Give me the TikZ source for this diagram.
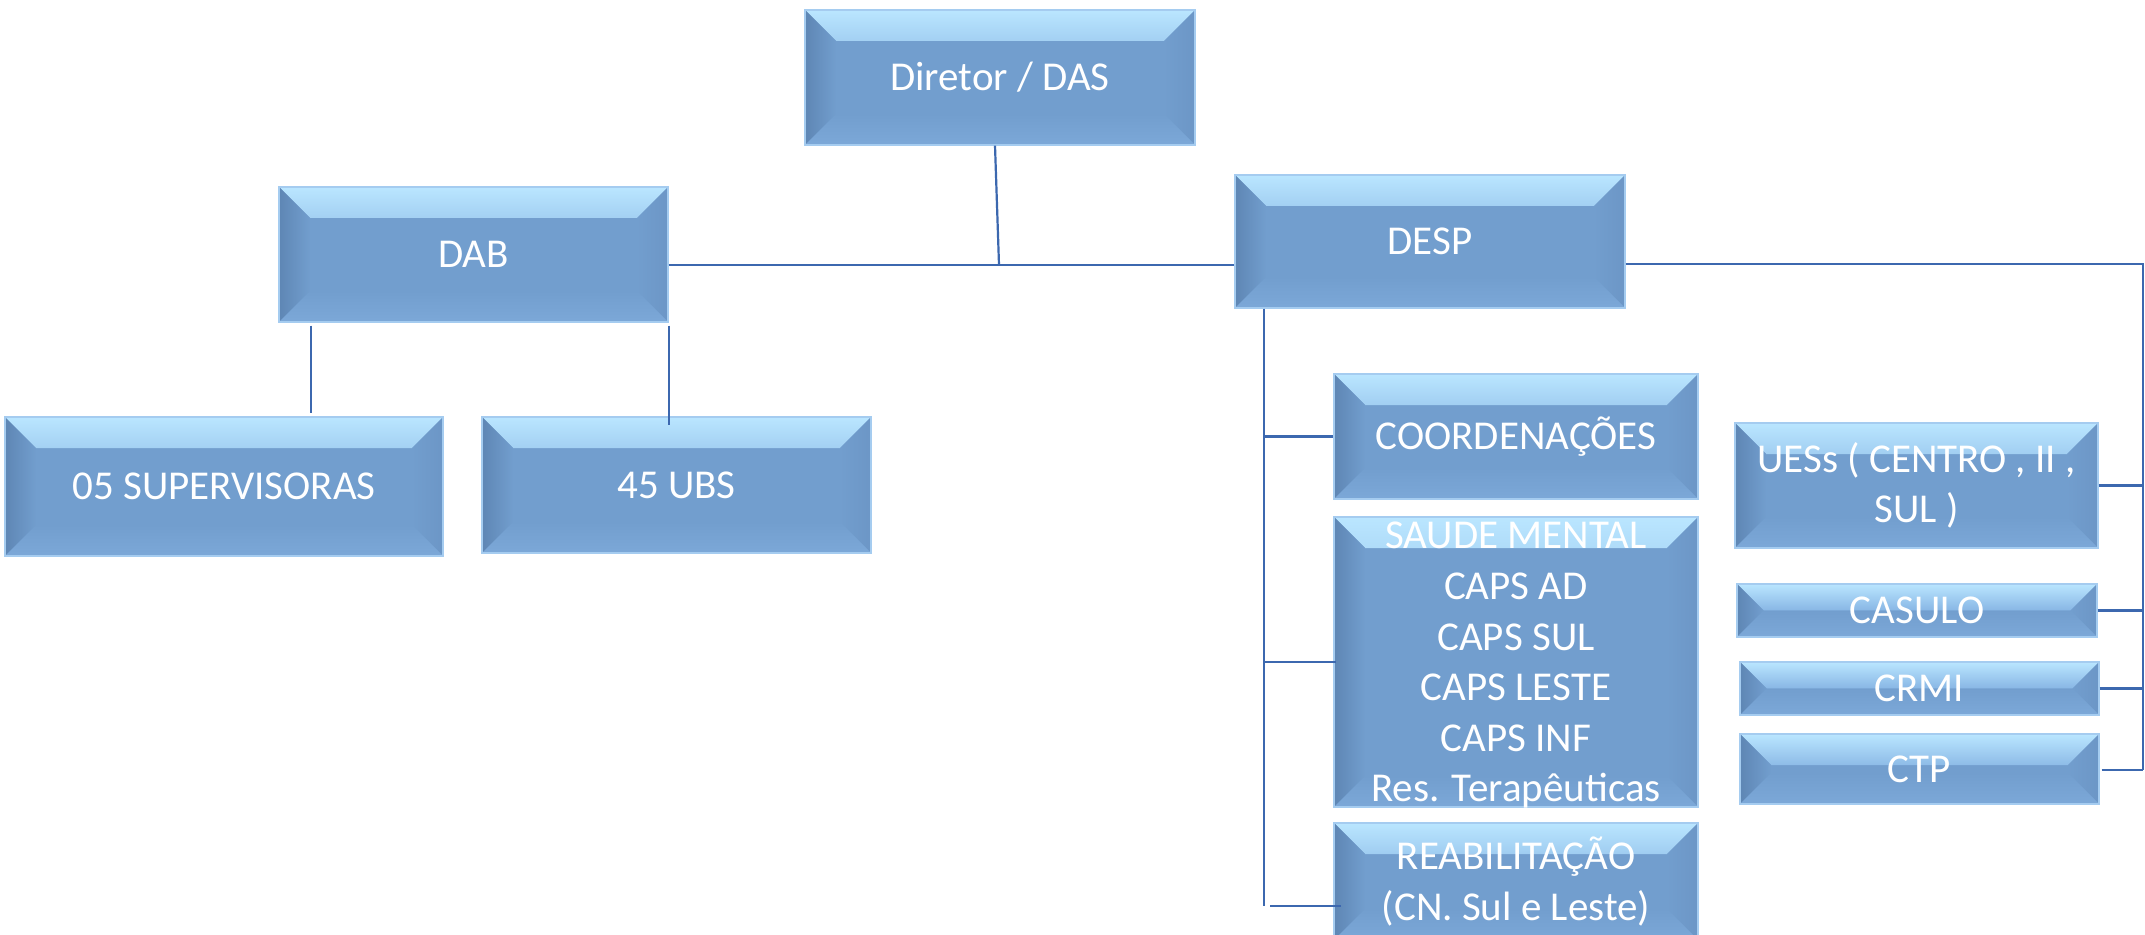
\documentclass[tikz,border=0pt]{standalone}
\usepackage{fontspec}
\setmainfont{Carlito}
\usetikzlibrary{calc}
\definecolor{basec}{RGB}{114,158,206}
\definecolor{topc}{RGB}{186,230,255}
\definecolor{midc}{RGB}{136,182,228}
\definecolor{leftc}{RGB}{94,134,180}
\definecolor{rightc}{RGB}{108,150,198}
\definecolor{botc}{RGB}{124,168,216}
\definecolor{edgec}{RGB}{165,204,240}
\definecolor{linec}{RGB}{60,104,175}
\newcommand{\boxfont}{\fontsize{20.5}{25.3}\selectfont}
\tikzset{
  bev/.style={rectangle, inner sep=0pt, text=white, align=center, font=\boxfont,
    fill=basec, draw=edgec, line width=0.6pt,
    path picture={
      \shade[top color=topc, bottom color=basec, middle color=midc]
        let \p1=(path picture bounding box.south west),
            \p2=(path picture bounding box.north east),
            \n1={min(15.5,(\y2-\y1)/2)} in
        (\x1,\y2) -- (\x2,\y2) -- ({\x2-\n1},{\y2-\n1}) -- ({\x1+\n1},{\y2-\n1}) -- cycle;
      \shade[left color=leftc, right color=basec]
        let \p1=(path picture bounding box.south west),
            \p2=(path picture bounding box.north east),
            \n1={min(15.5,(\y2-\y1)/2)} in
        (\x1,\y1) -- (\x1,\y2) -- ({\x1+\n1},{\y2-\n1}) -- ({\x1+\n1},{\y1+\n1}) -- cycle;
      \shade[left color=basec, right color=rightc]
        let \p1=(path picture bounding box.south west),
            \p2=(path picture bounding box.north east),
            \n1={min(15.5,(\y2-\y1)/2)} in
        (\x2,\y1) -- (\x2,\y2) -- ({\x2-\n1},{\y2-\n1}) -- ({\x2-\n1},{\y1+\n1}) -- cycle;
      \shade[top color=basec, bottom color=botc]
        let \p1=(path picture bounding box.south west),
            \p2=(path picture bounding box.north east),
            \n1={min(15.5,(\y2-\y1)/2)} in
        (\x1,\y1) -- (\x2,\y1) -- ({\x2-\n1},{\y1+\n1}) -- ({\x1+\n1},{\y1+\n1}) -- cycle;
    }},
  conn/.style={draw=linec, line width=1.1pt}
}
\begin{document}
\begin{tikzpicture}[x={(0.5pt,0)}, y={(0,-0.5pt)}]
\useasboundingbox (0,0) rectangle (2145,935);
\fill[white] (0,0) rectangle (2145,935);
% boxes
\node[bev, minimum width=195pt, minimum height=67.5pt] (dir) at (1000,77.5) {Diretor / DAS};
\node[bev, minimum width=194.5pt, minimum height=67.5pt] (dab) at (473.5,254.5) {DAB};
\node[bev, minimum width=195pt, minimum height=66.5pt] (desp) at (1430,241.5) {DESP};
\node[bev, minimum width=219pt, minimum height=69.5pt] (sup) at (224,486.5) {05 SUPERVISORAS};
\node[bev, minimum width=194.5pt, minimum height=68pt] (ubs) at (676.5,485) {45 UBS};
\node[bev, minimum width=182pt, minimum height=62.5pt] (coord) at (1516,436.5) {COORDENAÇÕES};
\node[bev, minimum width=182pt, minimum height=145pt, text depth=0pt] (saude) at (1516,662) {SAUDE MENTAL\\CAPS AD\\CAPS SUL\\CAPS LESTE\\CAPS INF\\Res. Terapêuticas};
\node[bev, minimum width=182pt, minimum height=58.5pt] (reab) at (1516,881.5) {REABILITAÇÃO\\(CN. Sul e Leste)};
\node[bev, minimum width=181.5pt, minimum height=62.5pt] (uess) at (1916.5,485.5) {UESs ( CENTRO , II ,\\SUL )};
\node[bev, minimum width=180pt, minimum height=26.5pt] (casulo) at (1917,610.5) {CASULO};
\node[bev, minimum width=179.5pt, minimum height=26.5pt] (crmi) at (1919.5,688.5) {CRMI};
\node[bev, minimum width=179.5pt, minimum height=35pt] (ctp) at (1919.5,769) {CTP};
% connectors
\coordinate (j1) at (999,265);
\draw[conn] ([xshift=-2.5pt]dir.south) -- (j1);
\draw[conn] (j1 -| dab.east) -- (j1 -| desp.west);
\coordinate (rt) at (2143,264);
\coordinate (rb) at (2143,770);
\draw[conn] (rt -| desp.east) -- (rt) -- (rb);
\draw[conn] (uess.east) -- (uess.east -| rt);
\draw[conn] (casulo.east) -- (casulo.east -| rt);
\draw[conn] (crmi.east) -- (crmi.east -| rt);
\draw[conn] ($(rb -| ctp.east)+(2,0)$) -- (rb);
\coordinate (dl) at (1264,906);
\draw[conn] (desp.south -| dl) -- (dl);
\draw[conn] (coord.west -| dl) -- (coord.west);
\draw[conn] (saude.west -| dl) -- ($(saude.west)+(3,0)$);
\coordinate (rs) at (1270,906);
\draw[conn] (rs) -- ($(rs -| reab.west)+(8,0)$);
\coordinate (ls) at (311,413);
\coordinate (rs2) at (668,425);
\draw[conn] ($(dab.south -| ls)+(0,3)$) -- (ls);
\draw[conn] ($(dab.south east)+(0,3)$) -- (dab.south east |- rs2);
\end{tikzpicture}
\end{document}
